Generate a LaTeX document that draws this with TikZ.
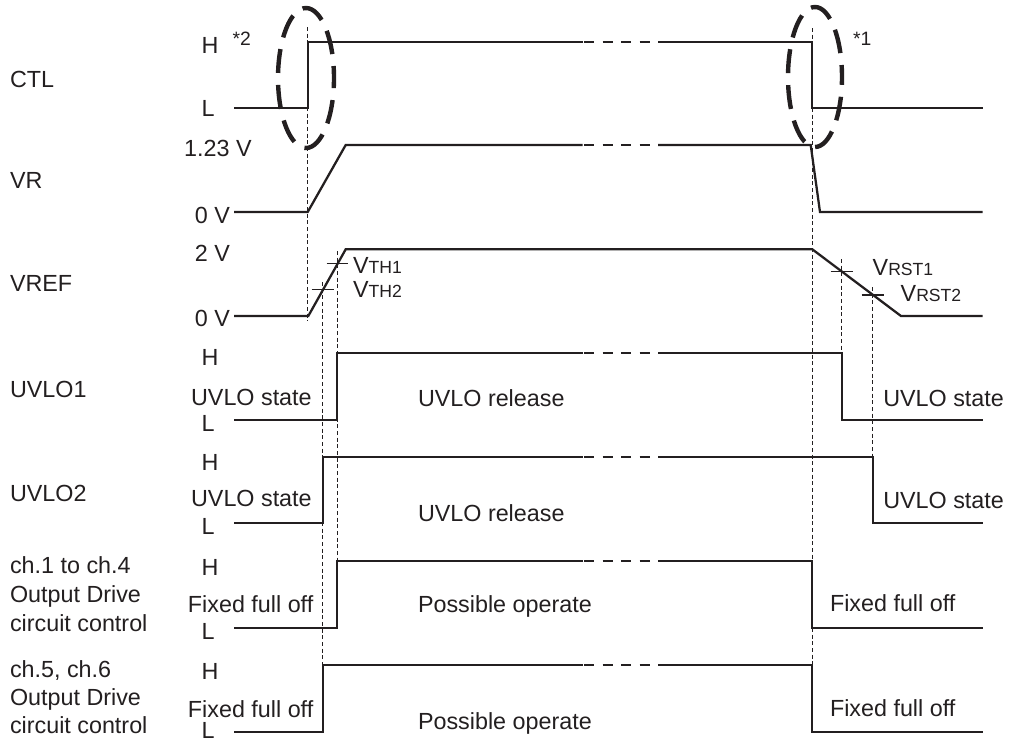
\documentclass[tikz,border=0pt]{standalone}
\usepackage{fontspec}
\setmainfont{Liberation Sans}
\definecolor{ink}{RGB}{35,31,32}
\newcommand\sub[1]{{\fontsize{13.2}{15}\selectfont #1}}
\newcommand\brkline[1]{\draw[brk] (584,#1) -- (658,#1);}
\begin{document}
\begin{tikzpicture}[x=0.75pt,y=-0.75pt,
  sig/.style={line width=1.7pt, draw=ink, line join=miter},
  brk/.style={line width=1.7pt, draw=ink, dash pattern=on 7.5pt off 6.375pt},
  guide/.style={line width=0.9pt, draw=ink, dash pattern=on 3pt off 2pt},
  tickmark/.style={line width=1pt, draw=ink},
  ring/.style={line width=3.3pt, draw=ink, dash pattern=on 18pt off 9pt, dash phase=9pt},
  lbl/.style={inner sep=0pt, outer sep=0pt, text=ink, font=\fontsize{17.5}{20}\selectfont},
  note/.style={inner sep=0pt, outer sep=0pt, text=ink, font=\fontsize{14.5}{16}\selectfont},
]
\useasboundingbox (0,0) rectangle (1010,744);

% ---------- guide lines ----------
\draw[guide] (307.7,27) -- (307.7,321);
\draw[guide] (322.7,282) -- (322.7,665);
\draw[guide] (337.3,251) -- (337.3,561);
\draw[guide] (812.3,28) -- (812.3,665);
\draw[guide] (841.7,259) -- (841.7,352.7);
\draw[guide] (872.7,287) -- (872.7,457);

% ---------- CTL ----------
\draw[sig] (234,108) -- (307.7,108) -- (307.7,42) -- (582.7,42);
\brkline{42}
\draw[sig] (658,42) -- (812.3,42) -- (812.3,108) -- (982.7,108);

% ---------- VR ----------
\draw[sig] (234,212) -- (307.7,212) -- (345.7,145) -- (582.7,145);
\brkline{145}
\draw[sig] (658,145) -- (810.7,145) -- (820,212) -- (982.7,212);

% ---------- VREF ----------
\draw[sig] (234,316) -- (308.3,316) -- (345.7,249.3) -- (812.3,249.3) -- (901,316) -- (982.7,316);
\draw[tickmark] (311.7,289.3) -- (334,289.3);
\draw[tickmark] (326.7,263.7) -- (348,263.7);
\draw[tickmark] (830.7,271.7) -- (853.3,271.7);
\draw[tickmark] (861.7,295) -- (884,295);

% ---------- UVLO1 ----------
\draw[sig] (234,420) -- (337.3,420) -- (337.3,352.7) -- (582.7,352.7);
\brkline{352.7}
\draw[sig] (658,352.7) -- (841.7,352.7) -- (841.7,420) -- (982.7,420);

% ---------- UVLO2 ----------
\draw[sig] (234,523.3) -- (322.7,523.3) -- (322.7,457) -- (582.7,457);
\brkline{457}
\draw[sig] (658,457) -- (872.7,457) -- (872.7,523.3) -- (982.7,523.3);

% ---------- ch.1 to ch.4 ----------
\draw[sig] (234,627.7) -- (337.3,627.7) -- (337.3,561) -- (582.7,561);
\brkline{561}
\draw[sig] (658,561) -- (812.3,561) -- (812.3,627.7) -- (982.7,627.7);

% ---------- ch.5, ch.6 ----------
\draw[sig] (234,732.3) -- (322.7,732.3) -- (322.7,665) -- (582.7,665);
\brkline{665}
\draw[sig] (658,665) -- (812.3,665) -- (812.3,732.3) -- (982.7,732.3);

% ---------- dashed rings ----------
\draw[ring] (306,78) ellipse [x radius=21pt, y radius=52.5pt];
\draw[ring] (815,77) ellipse [x radius=20.25pt, y radius=52.5pt];

% ---------- signal names ----------
\node[lbl, anchor=base west] (nctl) at (10,87.3) {CTL};
\node[lbl, anchor=base west] (nvr) at (10,188) {VR};
\node[lbl, anchor=base west] (nvref) at (10,291.7) {VREF};
\node[lbl, anchor=base west] (nu1) at (10,397.5) {UVLO1};
\node[lbl, anchor=base west] (nu2) at (10,501) {UVLO2};
\node[lbl, anchor=base west] (nc1a) at (10,573) {ch.1 to ch.4};
\node[lbl, anchor=base west] (nc1b) at (10,602) {Output Drive};
\node[lbl, anchor=base west] (nc1c) at (10,631) {circuit control};
\node[lbl, anchor=base west] (nc5a) at (10,677) {ch.5, ch.6};
\node[lbl, anchor=base west] (nc5b) at (10,705) {Output Drive};
\node[lbl, anchor=base west] (nc5c) at (10,733) {circuit control};

% ---------- level labels ----------
\node[lbl, anchor=base west] (hctl) at (201.7,53.3) {H};
\node[lbl, anchor=base west] (lctl) at (201.7,116.7) {L};
\node[note, anchor=base west] (s2) at (232.7,45) {*2};
\node[note, anchor=base west] (s1) at (853,45) {*1};
\node[lbl, anchor=base east] (vrh) at (251.7,156.7) {1.23 V};
\node[lbl, anchor=base east] (vrl) at (230,223) {0 V};
\node[lbl, anchor=base east] (vfh) at (230,261.7) {2 V};
\node[lbl, anchor=base east] (vfl) at (230,326.7) {0 V};
\node[lbl, anchor=base west] (hu1) at (201.7,365.7) {H};
\node[lbl, anchor=base west] (lu1) at (201.7,431) {L};
\node[lbl, anchor=base west] (hu2) at (201.7,470) {H};
\node[lbl, anchor=base west] (lu2) at (201.7,534.3) {L};
\node[lbl, anchor=base west] (hc1) at (201.7,575) {H};
\node[lbl, anchor=base west] (lc1) at (201.7,639.5) {L};
\node[lbl, anchor=base west] (hc5) at (201.7,679) {H};
\node[lbl, anchor=base west] (lc5) at (201.7,738.5) {L};

% ---------- threshold labels ----------
\node[lbl, anchor=base west] (th1) at (353,273) {V\sub{TH1}};
\node[lbl, anchor=base west] (th2) at (353,297) {V\sub{TH2}};
\node[lbl, anchor=base west] (rst1) at (872.7,275.7) {V\sub{RST1}};
\node[lbl, anchor=base west] (rst2) at (900.7,301.5) {V\sub{RST2}};

% ---------- state texts ----------
\node[lbl, anchor=base east] (su1l) at (311.7,405) {UVLO state};
\node[lbl, anchor=base west] (su1m) at (418,406) {UVLO release};
\node[lbl, anchor=base west] (su1r) at (883.3,406.7) {UVLO state};
\node[lbl, anchor=base east] (su2l) at (311.7,506.7) {UVLO state};
\node[lbl, anchor=base west] (su2m) at (418,521) {UVLO release};
\node[lbl, anchor=base west] (su2r) at (883.3,508.3) {UVLO state};
\node[lbl, anchor=base east] (sc1l) at (313.3,612) {Fixed full off};
\node[lbl, anchor=base west] (sc1m) at (418,612) {Possible operate};
\node[lbl, anchor=base west] (sc1r) at (830,611.7) {Fixed full off};
\node[lbl, anchor=base east] (sc5l) at (313.3,717) {Fixed full off};
\node[lbl, anchor=base west] (sc5m) at (418,729) {Possible operate};
\node[lbl, anchor=base west] (sc5r) at (830,716.7) {Fixed full off};
\end{tikzpicture}
\end{document}
